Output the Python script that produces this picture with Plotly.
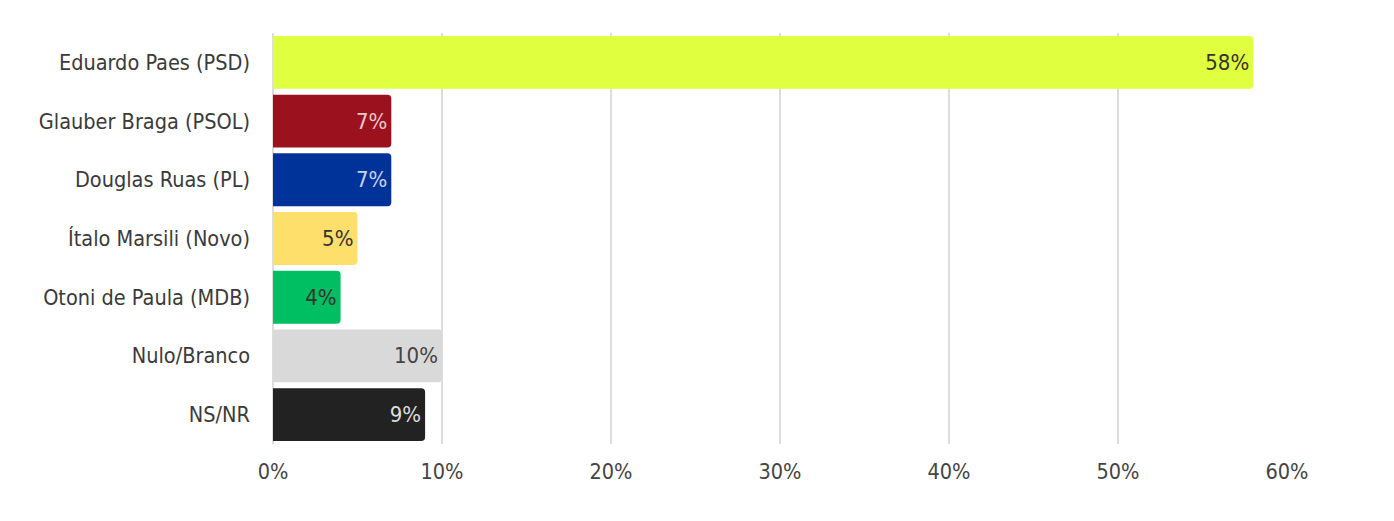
import plotly.graph_objects as go

categories = ["Eduardo Paes (PSD)", "Glauber Braga (PSOL)", "Douglas Ruas (PL)",
              "Ítalo Marsili (Novo)", "Otoni de Paula (MDB)", "Nulo/Branco", "NS/NR"]
values = [58, 7, 7, 5, 4, 10, 9]
colors = ["#DFFF3F", "#9B111E", "#003399", "#FFDF6B", "#00BF63", "#D9D9D9", "#222222"]
text_colors = ["#333333", "#E8C8CC", "#C8D2EE", "#333333", "#333333", "#444444", "#DDDDDD"]
tick_vals = [0, 10, 20, 30, 40, 50, 60]
tick_text = [f"{v}%" for v in tick_vals]

FONT = "Liberation Sans Narrow, DejaVu Sans Condensed, sans-serif"

fig = go.Figure(go.Bar(
    x=values, y=categories, orientation="h",
    marker=dict(color=colors, cornerradius=4, line=dict(width=0)),
    text=[f"{v}%" for v in values], textposition="inside", insidetextanchor="end",
    textfont=dict(color=text_colors, size=22, family=FONT),
    cliponaxis=False,
))
fig.update_layout(
    width=1394, height=521,
    margin=dict(l=265, r=115, t=25, b=85),
    plot_bgcolor="white", paper_bgcolor="white",
    bargap=0.1, showlegend=False,
    font=dict(family=FONT, size=21.5, color="#444444"),
    uniformtext=dict(minsize=20, mode="show"),
)
fig.update_xaxes(range=[0, 60], tickvals=tick_vals, ticktext=tick_text,
                 showgrid=True, gridcolor="#DDDDDD", gridwidth=1.5,
                 zeroline=True, zerolinecolor="#DDDDDD", zerolinewidth=1.5,
                 ticks="", ticklabelstandoff=12,
                 tickfont=dict(size=21.5, color="#444444", family=FONT))
fig.update_yaxes(autorange="reversed", ticks="", ticklabelstandoff=22,
                 tickfont=dict(size=21.5, color="#3a3a3a", family=FONT))
fig.write_html("out.html")
